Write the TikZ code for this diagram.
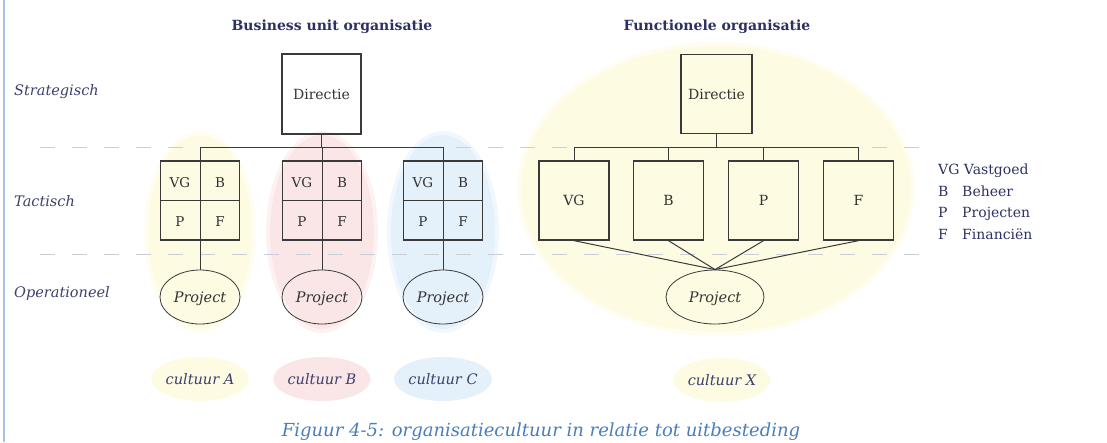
\documentclass[tikz,border=0pt]{standalone}
\usepackage{fontspec}
\setmainfont{DejaVu Serif}
\usetikzlibrary{shapes.geometric}
\definecolor{navy}{HTML}{2B3163}
\definecolor{lbl}{HTML}{3C4070}
\definecolor{yel}{HTML}{FDFBE2}
\definecolor{pnk}{HTML}{FAE6E6}
\definecolor{blu}{HTML}{E4F0FA}
\definecolor{capblue}{HTML}{4A7EBB}
\definecolor{dashc}{HTML}{C9CDD8}
\definecolor{edge}{HTML}{3A3A3A}
\definecolor{border}{HTML}{A8C3E6}
\definecolor{ink}{HTML}{333333}
\begin{document}
\begin{tikzpicture}[x=1pt,y=-1pt,
  fix/.style={text height=10pt, text depth=0pt},
  lvl/.style={font=\fontsize{14.5}{16}\selectfont\itshape, text=lbl, anchor=base west, inner sep=0pt},
  ttl/.style={font=\fontsize{14}{16}\selectfont\bfseries, text=navy, anchor=base, inner sep=0pt},
  leg/.style={font=\fontsize{14}{16}\selectfont, text=navy, anchor=base west, inner sep=0pt},
  sqbox/.style={draw=edge, line width=1.3pt, inner sep=0pt, fix, font=\fontsize{14}{16}\selectfont, text=ink},
  cell/.style={font=\fontsize{13.5}{15}\selectfont, text=ink, inner sep=0pt, fix},
  proj/.style={ellipse, draw=edge, line width=0.8pt, minimum width=80pt, minimum height=54pt, inner sep=0pt, fix, font=\fontsize{14.5}{16}\selectfont\itshape, text=ink},
  cult/.style={ellipse, minimum width=82pt, minimum height=44pt, inner sep=0pt, fix, font=\fontsize{14.5}{16}\selectfont\itshape, text=lbl},
  conn/.style={draw=edge, line width=1pt},
  lvline/.style={draw=dashc, line width=1pt, dash pattern=on 15pt off 17pt}
]
\useasboundingbox (0,0) rectangle (1107,442);
% left border
\draw[border, line width=1.5pt] (4,0) -- (4,442);

% soft culture backgrounds
\foreach \x/\c in {200/yel,322/pnk,443/blu}{
  \fill[\c, opacity=0.5] (\x,232) ellipse [x radius=56, y radius=101];
  \fill[\c] (\x,232) ellipse [x radius=52, y radius=97];
}
\fill[yel, opacity=0.5] (716,189) ellipse [x radius=199, y radius=147];
\fill[yel] (716,189) ellipse [x radius=195, y radius=143];

% level separators
\draw[lvline] (40,147) -- (926,147);
\draw[lvline] (40,254) -- (926,254);

% titles
\node[ttl] (t1) at (332,30) {Business unit organisatie};
\node[ttl] (t2) at (717,30) {Functionele organisatie};

% level labels
\node[lvl] (l1) at (14,95) {Strategisch};
\node[lvl] (l2) at (14,206) {Tactisch};
\node[lvl] (l3) at (14,297) {Operationeel};

% ---- business unit organisatie
\node[sqbox, minimum width=79pt, minimum height=80pt] (d1) at (321.5,94) {Directie};
\foreach \i/\x in {1/200,2/322,3/443}{
  \node[draw=edge, line width=1.3pt, minimum width=79pt, minimum height=79pt, inner sep=0pt] (g\i) at (\x,200.5) {};
  \draw[edge, line width=1pt] (g\i.west) -- (g\i.east);
  \node[cell] (g\i vg) at (\x-20,182) {VG};
  \node[cell] (g\i b) at (\x+20,182) {B};
  \node[cell] (g\i p) at (\x-20,221.5) {P};
  \node[cell] (g\i f) at (\x+20,221.5) {F};
  \node[proj] (p\i) at (\x,297) {Project};
}
\coordinate (bar1) at (321.5,147);
\draw[conn] (d1.south) -- (bar1);
\draw[conn] (g1.north |- bar1) -- (g3.north |- bar1);
\foreach \i in {1,2,3}{
  \draw[conn] (g\i.north |- bar1) -- (p\i.north);
}
\node[cult, fill=yel] (c1) at (200,379) {cultuur A};
\node[cult, fill=pnk] (c2) at (322,379) {cultuur B};
\node[cult, fill=blu] (c3) at (443,379) {cultuur C};

% ---- functionele organisatie
\node[sqbox, minimum width=71pt, minimum height=79pt] (d2) at (716.5,94) {Directie};
\node[sqbox, minimum width=70pt, minimum height=79pt] (fvg) at (574,200.5) {VG};
\node[sqbox, minimum width=70pt, minimum height=79pt] (fb) at (668.5,200.5) {B};
\node[sqbox, minimum width=70pt, minimum height=79pt] (fp) at (763.5,200.5) {P};
\node[sqbox, minimum width=70pt, minimum height=79pt] (ff) at (858.5,200.5) {F};
\node[proj, minimum width=98pt] (p4) at (715,297) {Project};
\coordinate (bar2) at (716.5,147);
\draw[conn] (d2.south) -- (bar2);
\draw[conn] (fvg.north |- bar2) -- (ff.north |- bar2);
\foreach \n in {fvg,fb,fp,ff}{
  \draw[conn] (\n.north |- bar2) -- (\n.north);
  \draw[conn] (\n.south) -- (p4.north);
}
\node[cult, fill=yel, minimum width=76pt] (c4) at (722,380) {cultuur X};

% legend
\node[leg] (lg1) at (938,174) {VG Vastgoed};
\node[leg] (lg2) at (938,196) {B};
\node[leg] (lg2t) at (962,196) {Beheer};
\node[leg] (lg3) at (938,217) {P};
\node[leg] (lg3t) at (962,217) {Projecten};
\node[leg] (lg4) at (938,239) {F};
\node[leg] (lg4t) at (962,239) {Financiën};

% caption
\node[font=\fontsize{18}{21}\selectfont\itshape, text=capblue, anchor=base, inner sep=0pt] (cap) at (541,436) {Figuur 4-5: organisatiecultuur in relatie tot uitbesteding};
\end{tikzpicture}
\end{document}
